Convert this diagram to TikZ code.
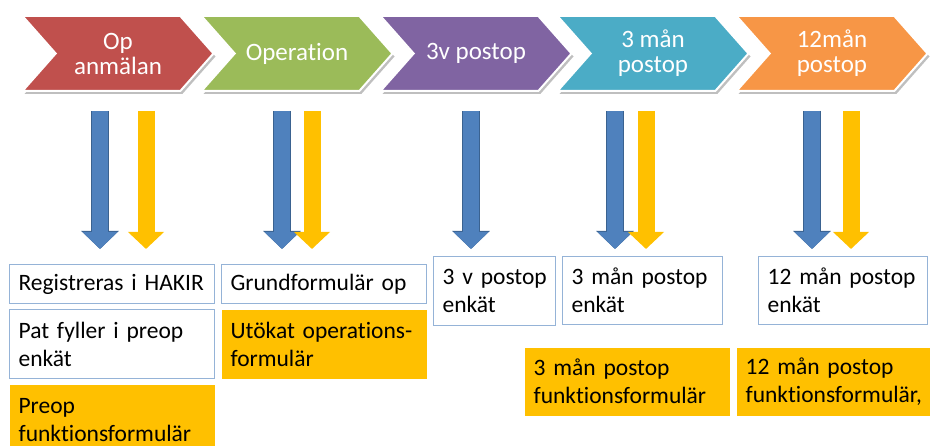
\documentclass[tikz,border=0pt]{standalone}
\usepackage{fontspec}
\setmainfont{Carlito}[Ligatures=NoCommon]
\usetikzlibrary{shapes.symbols,shadows,arrows.meta}

\definecolor{stepred}{HTML}{C0504D}
\definecolor{stepgreen}{HTML}{9BBB59}
\definecolor{steppurple}{HTML}{8064A2}
\definecolor{stepcyan}{HTML}{4BACC6}
\definecolor{steporange}{HTML}{F79646}
\definecolor{arrowblue}{HTML}{4F81BD}
\definecolor{arrowedge}{HTML}{3A6290}
\definecolor{formyellow}{HTML}{FFC000}
\definecolor{formline}{HTML}{95B3D7}

\tikzset{
  chevron/.style={signal, signal from=west, signal to=east, signal pointer angle=97,
    minimum width=191pt, minimum height=75pt, inner sep=0pt, draw=white, line width=2pt,
    text=white, align=center, font=\fontsize{25}{25}\selectfont,
    drop shadow={shadow xshift=2pt, shadow yshift=-3pt, fill=black, opacity=.25}},
  bluearrow/.style={line width=16pt, color=arrowblue, -{Triangle[width=34pt,length=17pt]},
    preaction={draw=arrowedge, line width=17.5pt, -{Triangle[width=36.5pt,length=18pt]}}},
  yellowarrow/.style={line width=17pt, color=formyellow, -{Triangle[width=35pt,length=17pt]}},
  form/.style={anchor=north west, draw=formline, fill=white, line width=1.2pt,
    inner xsep=9pt, inner ysep=0pt, align=left, font=\fontsize{23.5}{28}\selectfont},
  yform/.style={form, draw=none, fill=formyellow}
}

\begin{document}
\begin{tikzpicture}[x=1pt,y=-1pt]
\clip (0,0) rectangle (930,446);
% steps
\node[chevron, fill=stepred] (anm) at (118,53.5) {Op\\anmälan};
\node[chevron, fill=stepgreen] (oper) at (297,53.5) {Operation};
\node[chevron, fill=steppurple] (v3) at (476,53.5) {3v postop};
\node[chevron, fill=stepcyan] (m3) at (653,53.5) {3 mån\\postop};
\node[chevron, fill=steporange] (m12) at (832,53.5) {12mån\\postop};

% forms
\node[form, text width=187pt, minimum height=39pt] (hakir) at (9,264) {Registreras i HAKIR};
\node[form, text width=187pt, minimum height=69pt] (patenkat) at (9,309) {Pat fyller i preop\\enkät};
\node[yform, text width=187pt, minimum height=70pt] (preopform) at (9,384) {Preop\\funktionsformulär};
\node[form, text width=187pt, minimum height=39pt] (grund) at (221,264) {Grundformulär op};
\node[yform, text width=187pt, minimum height=69pt] (utokat) at (221,309) {Utökat operations-\\formulär};
\node[form, text width=104pt, minimum height=69pt] (enk3v) at (433,256) {\mbox{3 v postop}\\enkät};
\node[form, text width=142pt, minimum height=68pt] (enk3m) at (562,256) {3 mån postop\\enkät};
\node[form, text width=151pt, minimum height=68pt] (enk12m) at (758,256) {12 mån postop\\enkät};
\node[yform, text width=187pt, minimum height=68pt] (form3m) at (524,347) {3 mån postop\\funktionsformulär};
\node[yform, text width=187pt, minimum height=68pt] (form12m) at (736,347) {12 mån postop\\funktionsformulär,};

% arrows
\coordinate (b1) at (100,111); \coordinate (b1e) at (100,249);
\coordinate (b2) at (282,111); \coordinate (b2e) at (282,249);
\coordinate (b3) at (471,111); \coordinate (b3e) at (471,249);
\coordinate (b4) at (615,111); \coordinate (b4e) at (615,249);
\coordinate (b5) at (812,111); \coordinate (b5e) at (812,249);
\coordinate (y1) at (146,111); \coordinate (y1e) at (146,249);
\coordinate (y2) at (312,111); \coordinate (y2e) at (312,249);
\coordinate (y4) at (646,111); \coordinate (y4e) at (646,249);
\coordinate (y5) at (851,111); \coordinate (y5e) at (851,249);
\draw[bluearrow] (b1) -- (b1e);
\draw[bluearrow] (b2) -- (b2e);
\draw[bluearrow] (b3) -- (b3e);
\draw[bluearrow] (b4) -- (b4e);
\draw[bluearrow] (b5) -- (b5e);
\draw[yellowarrow] (y1) -- (y1e);
\draw[yellowarrow] (y2) -- (y2e);
\draw[yellowarrow] (y4) -- (y4e);
\draw[yellowarrow] (y5) -- (y5e);
\end{tikzpicture}
\end{document}
